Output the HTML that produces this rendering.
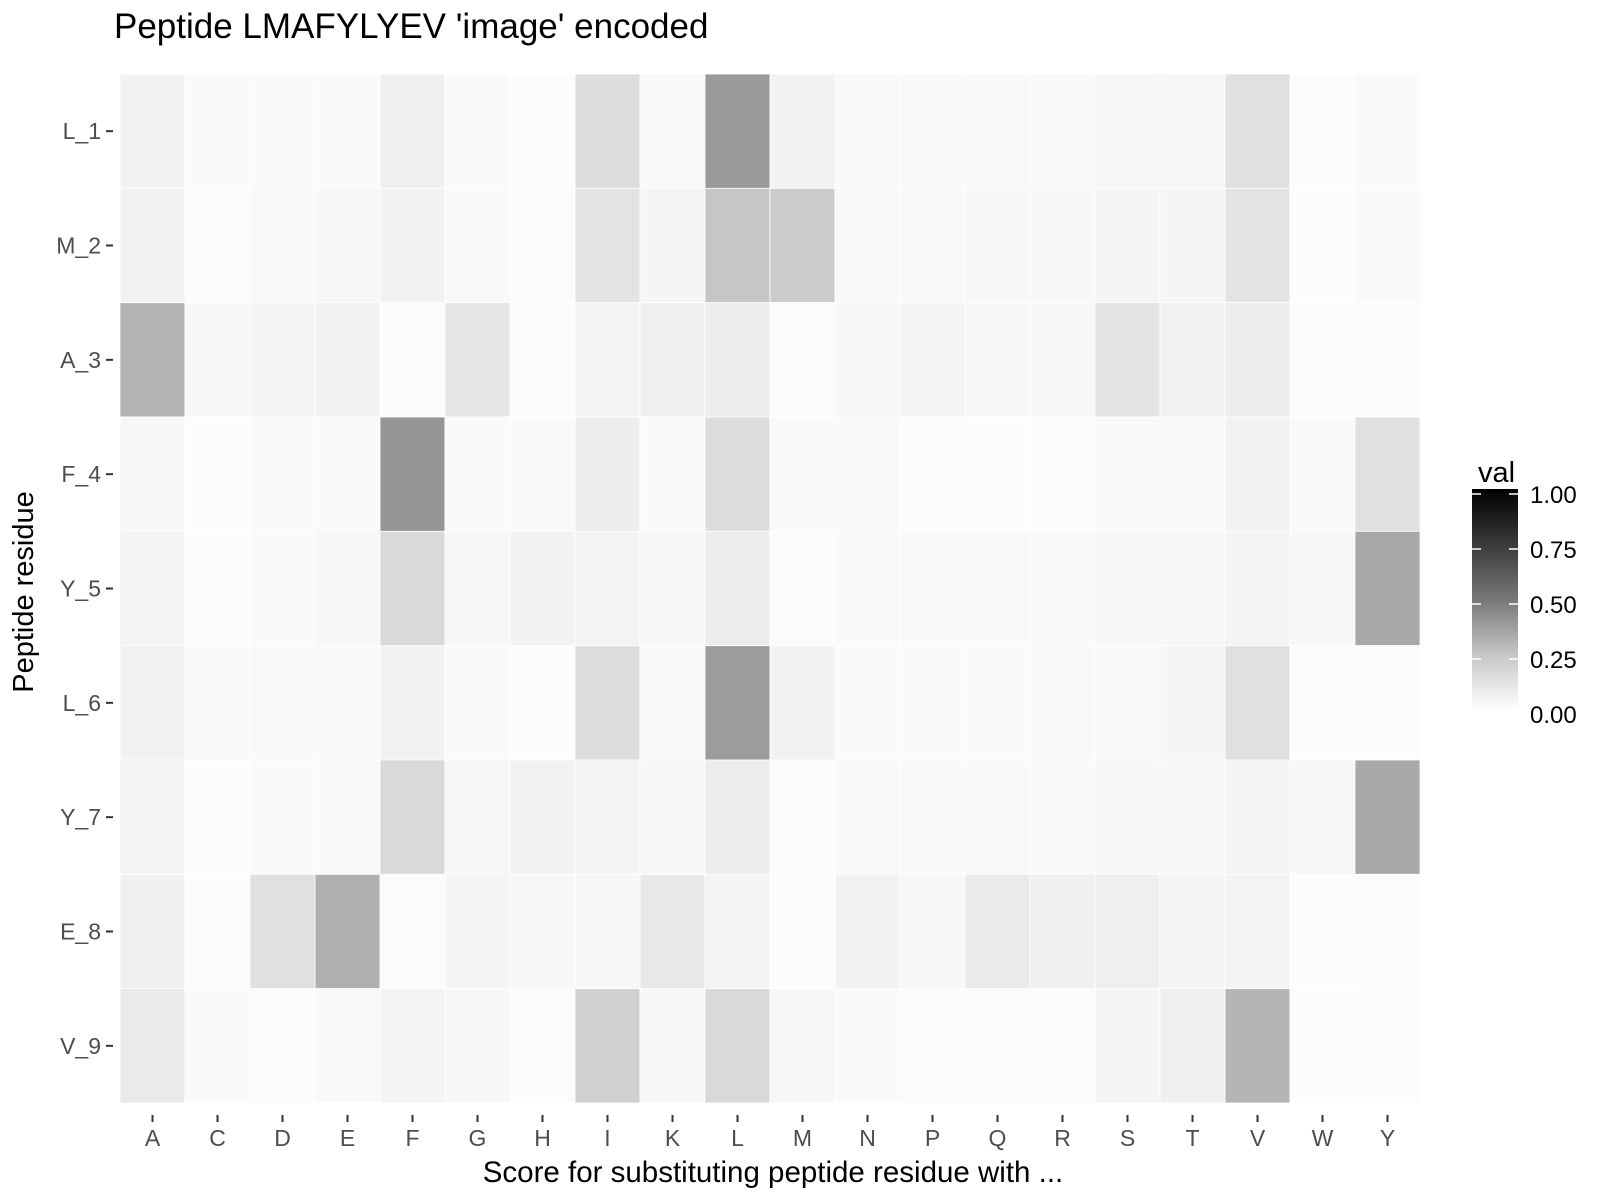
<!DOCTYPE html>
<html><head><style>body{margin:0;background:#fff}svg{display:block}text{font-family:"Liberation Sans",sans-serif}</style></head><body>
<svg width="1606" height="1202" xmlns="http://www.w3.org/2000/svg">
<defs><linearGradient id="g" x1="0" y1="1" x2="0" y2="0">
<stop offset="0" stop-color="#ffffff"/><stop offset="0.25" stop-color="#c6c6c6"/><stop offset="0.5" stop-color="#777"/><stop offset="0.75" stop-color="#3a3a3a"/><stop offset="1" stop-color="#000"/></linearGradient></defs>
<text x="114" y="38" font-size="35" fill="#000">Peptide LMAFYLYEV 'image' encoded</text>
<g id="tiles"></g>
<g id="ax" font-size="23" fill="#4d4d4d"></g>
<text x="773" y="1182" font-size="29.5" text-anchor="middle" fill="#000">Score for substituting peptide residue with ...</text>
<text transform="translate(33,592) rotate(-90)" font-size="29" text-anchor="middle" fill="#000">Peptide residue</text>
<text x="1478" y="482" font-size="29" fill="#000">val</text>
<rect x="1472" y="489" width="46" height="221" fill="url(#g)"/>
<g stroke="#fff" stroke-width="1.5">
<line x1="1472" y1="494" x2="1481" y2="494"/><line x1="1509" y1="494" x2="1518" y2="494"/>
<line x1="1472" y1="549" x2="1481" y2="549"/><line x1="1509" y1="549" x2="1518" y2="549"/>
<line x1="1472" y1="604" x2="1481" y2="604"/><line x1="1509" y1="604" x2="1518" y2="604"/>
<line x1="1472" y1="659" x2="1481" y2="659"/><line x1="1509" y1="659" x2="1518" y2="659"/>
</g>
<g font-size="24" fill="#000">
<text x="1530" y="503">1.00</text><text x="1530" y="558">0.75</text><text x="1530" y="613">0.50</text><text x="1530" y="668">0.25</text><text x="1530" y="723">0.00</text>
</g>
</svg>
<script>
const cols="ACDEFGHIKLMNPQRSTVWY".split("");
const rows=["L_1","M_2","A_3","F_4","Y_5","L_6","Y_7","E_8","V_9"];
const d=[
"f2 fa fa fa ef fa fc dd f8 9a f2 f9 f9 f9 f9 f7 f7 e0 fc fa",
"f2 fb f8 f7 f2 f9 fb e3 f5 c6 cb f9 f9 f7 f7 f5 f5 e3 fc f9",
"b4 f7 f4 f2 fc e6 fc f4 f0 ee fb f7 f4 f7 f7 e4 f2 ee fc fc",
"f7 fc fa f9 96 fa f9 ee fa dd f9 f9 fc fc fb f9 f9 f2 f9 e0",
"f4 fc fa f7 d9 f7 f2 f4 f7 ec fb f9 f9 f9 f9 f7 f7 f4 f7 a8",
"f2 f9 f9 f9 f2 fa fc dd f9 9c f2 fa fa fa f9 f9 f5 e0 fc fc",
"f4 fc fa f9 d9 f7 f2 f4 f7 ec fb f9 f9 f9 f9 f7 f7 f4 f7 a8",
"f0 fc e0 b0 fb f5 f7 f7 e8 f4 fb f2 f7 ea f0 ef f4 f4 fc fb",
"ea fa fb f9 f4 f7 fc d0 f7 d9 f7 fa fb fb fb f5 f0 b5 fc fc"];
const L=120,T=74,W=1300/20,H=1029/9;
let s="",a="";
d.forEach((r,i)=>r.split(" ").forEach((c,j)=>{s+=`<rect x="${L+j*W}" y="${T+i*H}" width="${W}" height="${H}" fill="#${c}${c}${c}" stroke="#fff" stroke-width="0.8"/>`;}));
rows.forEach((r,i)=>{const y=T+(i+.5)*H;a+=`<text x="101" y="${y+8}" text-anchor="end">${r}</text><line x1="106" x2="113" y1="${y}" y2="${y}" stroke="#333" stroke-width="2"/>`;});
cols.forEach((c,j)=>{const x=L+(j+.5)*W;a+=`<text x="${x}" y="1146" text-anchor="middle">${c}</text><line x1="${x}" x2="${x}" y1="1115" y2="1122" stroke="#333" stroke-width="2"/>`;});
document.getElementById("tiles").innerHTML=s;document.getElementById("ax").innerHTML=a;
</script>
</body></html>
